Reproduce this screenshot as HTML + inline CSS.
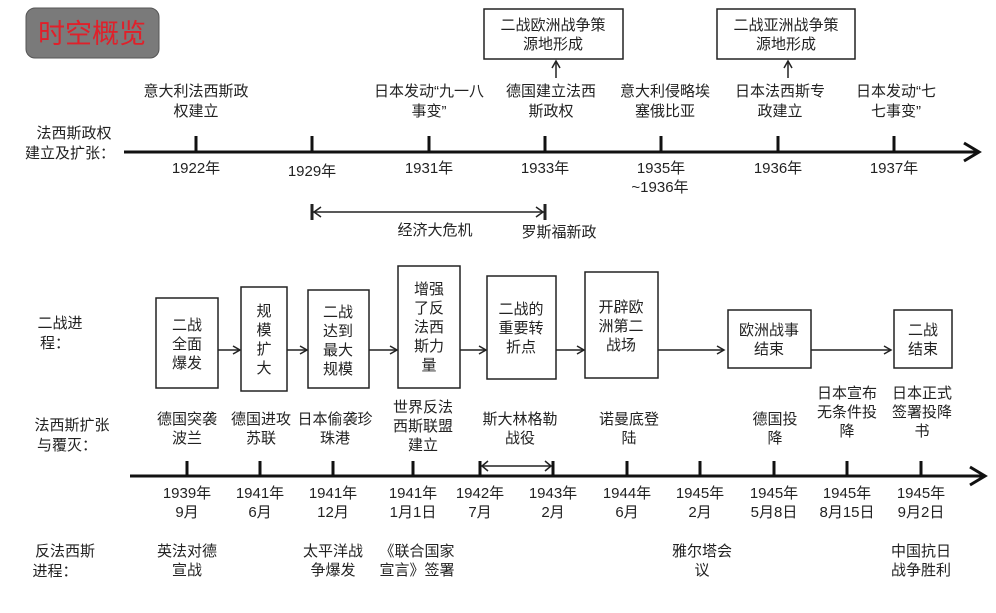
<!DOCTYPE html>
<html><head><meta charset="utf-8"><style>
html,body{margin:0;padding:0;background:#fff;}
svg text{font-family:"Liberation Sans","Noto Sans CJK SC",sans-serif;font-size:15px;fill:#222;}
</style></head><body>
<svg width="996" height="608" viewBox="0 0 996 608" xmlns="http://www.w3.org/2000/svg">
<defs>
<marker id="ah" markerWidth="10" markerHeight="10" refX="8" refY="5" orient="auto" markerUnits="userSpaceOnUse">
<path d="M1,1 L8,5 L1,9" fill="none" stroke="#222" stroke-width="1.5"/></marker>
</defs>
<rect x="26" y="8" width="133" height="50" rx="9" fill="#7a7a7a" stroke="#555"/>
<text x="92" y="43" text-anchor="middle" style="font-size:27px;fill:#e0202a">时空概览</text>

<text x="74" y="138" text-anchor="middle">法西斯政权</text>
<text x="70" y="158" text-anchor="middle">建立及扩张：</text>
<line x1="124" y1="152" x2="978" y2="152" stroke="#111" stroke-width="3"/>
<path d="M964,143 L979,152 L964,161" fill="none" stroke="#111" stroke-width="3"/>
<g stroke="#111" stroke-width="3">
<line x1="196" y1="136" x2="196" y2="152"/><line x1="312" y1="136" x2="312" y2="152"/>
<line x1="429" y1="136" x2="429" y2="152"/><line x1="545" y1="136" x2="545" y2="152"/>
<line x1="661" y1="136" x2="661" y2="152"/><line x1="778" y1="136" x2="778" y2="152"/>
<line x1="894" y1="136" x2="894" y2="152"/></g>
<g text-anchor="middle">
<text x="196" y="173">1922年</text><text x="312" y="176">1929年</text><text x="429" y="173">1931年</text>
<text x="545" y="173">1933年</text><text x="661" y="173">1935年</text><text x="660" y="192">~1936年</text>
<text x="778" y="173">1936年</text><text x="894" y="173">1937年</text>
<text x="196" y="96">意大利法西斯政</text><text x="196" y="116">权建立</text>
<text x="429" y="96">日本发动“九一八</text><text x="429" y="116">事变”</text>
<text x="551" y="96">德国建立法西</text><text x="551" y="116">斯政权</text>
<text x="665" y="96">意大利侵略埃</text><text x="665" y="116">塞俄比亚</text>
<text x="780" y="96">日本法西斯专</text><text x="780" y="116">政建立</text>
<text x="896" y="96">日本发动“七</text><text x="896" y="116">七事变”</text>
</g>
<rect x="484" y="9" width="139" height="50" fill="#fff" stroke="#222" stroke-width="1.5"/>
<text x="553" y="30" text-anchor="middle">二战欧洲战争策</text><text x="553" y="49" text-anchor="middle">源地形成</text>
<rect x="717" y="9" width="138" height="50" fill="#fff" stroke="#222" stroke-width="1.5"/>
<text x="786" y="30" text-anchor="middle">二战亚洲战争策</text><text x="786" y="49" text-anchor="middle">源地形成</text>
<line x1="556" y1="78" x2="556" y2="61" stroke="#222" stroke-width="1.5" marker-end="url(#ah)"/>
<line x1="788" y1="78" x2="788" y2="61" stroke="#222" stroke-width="1.5" marker-end="url(#ah)"/>
<line x1="313" y1="212" x2="544" y2="212" stroke="#222" stroke-width="1.5"/>
<line x1="312" y1="204" x2="312" y2="220" stroke="#222" stroke-width="3"/>
<line x1="545" y1="204" x2="545" y2="220" stroke="#222" stroke-width="3"/>
<path d="M321,207 L314,212 L321,217 M536,207 L543,212 L536,217" fill="none" stroke="#222" stroke-width="1.5"/>
<text x="435" y="235" text-anchor="middle">经济大危机</text>
<text x="559" y="237" text-anchor="middle">罗斯福新政</text>

<text x="60" y="328" text-anchor="middle">二战进</text><text x="55" y="348" text-anchor="middle">程：</text>
<text x="72" y="430" text-anchor="middle">法西斯扩张</text><text x="67" y="450" text-anchor="middle">与覆灭：</text>
<text x="65" y="556" text-anchor="middle">反法西斯</text><text x="55" y="576" text-anchor="middle">进程：</text>
<g fill="#fff" stroke="#222" stroke-width="1.5">
<rect x="156" y="298" width="62" height="90"/><rect x="241" y="287" width="46" height="104"/>
<rect x="308" y="290" width="61" height="98"/><rect x="398" y="266" width="62" height="122"/>
<rect x="487" y="276" width="69" height="103"/><rect x="585" y="272" width="73" height="106"/>
<rect x="728" y="310" width="83" height="58"/><rect x="894" y="310" width="58" height="58"/>
</g>
<g stroke="#222" stroke-width="1.5">
<line x1="218" y1="350" x2="240" y2="350" marker-end="url(#ah)"/>
<line x1="287" y1="350" x2="307" y2="350" marker-end="url(#ah)"/>
<line x1="369" y1="350" x2="397" y2="350" marker-end="url(#ah)"/>
<line x1="460" y1="350" x2="486" y2="350" marker-end="url(#ah)"/>
<line x1="556" y1="350" x2="584" y2="350" marker-end="url(#ah)"/>
<line x1="658" y1="350" x2="724" y2="350" marker-end="url(#ah)"/>
<line x1="811" y1="350" x2="891" y2="350" marker-end="url(#ah)"/>
</g>
<g text-anchor="middle">
<text x="187" y="330">二战</text><text x="187" y="349">全面</text><text x="187" y="368">爆发</text>
<text x="264" y="316">规</text><text x="264" y="335">模</text><text x="264" y="354">扩</text><text x="264" y="373">大</text>
<text x="338" y="317">二战</text><text x="338" y="336">达到</text><text x="338" y="355">最大</text><text x="338" y="374">规模</text>
<text x="429" y="294">增强</text><text x="429" y="313">了反</text><text x="429" y="332">法西</text><text x="429" y="351">斯力</text><text x="429" y="370">量</text>
<text x="521" y="314">二战的</text><text x="521" y="333">重要转</text><text x="521" y="352">折点</text>
<text x="621" y="312">开辟欧</text><text x="621" y="331">洲第二</text><text x="621" y="350">战场</text>
<text x="769" y="335">欧洲战事</text><text x="769" y="354">结束</text>
<text x="923" y="335">二战</text><text x="923" y="354">结束</text>

<text x="187" y="424">德国突袭</text><text x="187" y="443">波兰</text>
<text x="261" y="424">德国进攻</text><text x="261" y="443">苏联</text>
<text x="335" y="424">日本偷袭珍</text><text x="335" y="443">珠港</text>
<text x="423" y="412">世界反法</text><text x="423" y="431">西斯联盟</text><text x="423" y="450">建立</text>
<text x="520" y="424">斯大林格勒</text><text x="520" y="443">战役</text>
<text x="629" y="424">诺曼底登</text><text x="629" y="443">陆</text>
<text x="775" y="424">德国投</text><text x="775" y="443">降</text>
<text x="847" y="398">日本宣布</text><text x="847" y="417">无条件投</text><text x="847" y="436">降</text>
<text x="922" y="398">日本正式</text><text x="922" y="417">签署投降</text><text x="922" y="436">书</text>

<text x="187" y="498">1939年</text><text x="187" y="517">9月</text>
<text x="260" y="498">1941年</text><text x="260" y="517">6月</text>
<text x="333" y="498">1941年</text><text x="333" y="517">12月</text>
<text x="413" y="498">1941年</text><text x="413" y="517">1月1日</text>
<text x="480" y="498">1942年</text><text x="480" y="517">7月</text>
<text x="553" y="498">1943年</text><text x="553" y="517">2月</text>
<text x="627" y="498">1944年</text><text x="627" y="517">6月</text>
<text x="700" y="498">1945年</text><text x="700" y="517">2月</text>
<text x="774" y="498">1945年</text><text x="774" y="517">5月8日</text>
<text x="847" y="498">1945年</text><text x="847" y="517">8月15日</text>
<text x="921" y="498">1945年</text><text x="921" y="517">9月2日</text>

<text x="187" y="556">英法对德</text><text x="187" y="575">宣战</text>
<text x="333" y="556">太平洋战</text><text x="333" y="575">争爆发</text>
<text x="417" y="556">《联合国家</text><text x="417" y="575">宣言》签署</text>
<text x="702" y="556">雅尔塔会</text><text x="702" y="575">议</text>
<text x="921" y="556">中国抗日</text><text x="921" y="575">战争胜利</text>
</g>
<line x1="130" y1="476" x2="984" y2="476" stroke="#111" stroke-width="3"/>
<path d="M970,467 L985,476 L970,485" fill="none" stroke="#111" stroke-width="3"/>
<g stroke="#111" stroke-width="3">
<line x1="187" y1="461" x2="187" y2="476"/><line x1="260" y1="461" x2="260" y2="476"/>
<line x1="333" y1="461" x2="333" y2="476"/><line x1="413" y1="461" x2="413" y2="476"/>
<line x1="480" y1="461" x2="480" y2="476"/><line x1="553" y1="461" x2="553" y2="476"/>
<line x1="627" y1="461" x2="627" y2="476"/><line x1="700" y1="461" x2="700" y2="476"/>
<line x1="774" y1="461" x2="774" y2="476"/><line x1="847" y1="461" x2="847" y2="476"/>
<line x1="921" y1="461" x2="921" y2="476"/></g>
<line x1="481" y1="466" x2="552" y2="466" stroke="#222" stroke-width="1.5"/>
<path d="M488,461 L482,466 L488,471 M545,461 L551,466 L545,471" fill="none" stroke="#222" stroke-width="1.5"/>
</svg>
</body></html>
